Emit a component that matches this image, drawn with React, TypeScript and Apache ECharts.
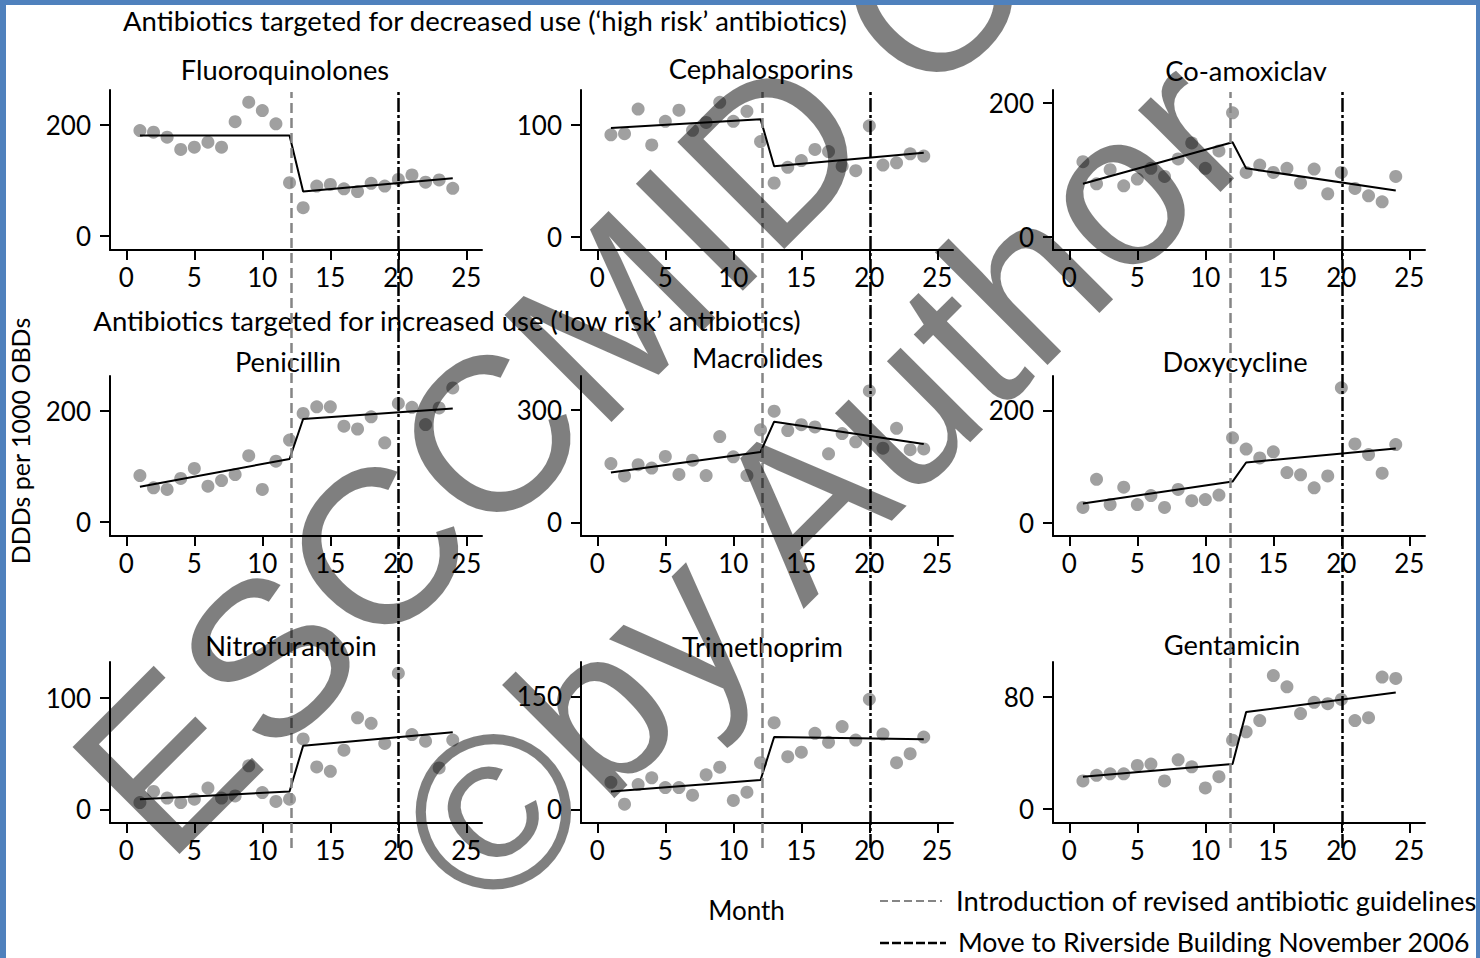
import React, { useEffect, useRef } from 'react';
import * as echarts from 'echarts';

// ---- data ----
const months = [1, 2, 3, 4, 5, 6, 7, 8, 9, 10, 11, 12, 13, 14, 15, 16, 17, 18, 19, 20, 21, 22, 23, 24];

const fluoroquinolones = [190, 187, 178, 156, 160, 169, 160, 206, 241, 226, 202, 96, 51, 90, 93, 85, 80, 95, 90, 102, 110, 97, 101, 86];
const cephalosporins = [91, 92, 114, 82, 103, 113, 95, 102, 120, 103, 112, 85, 48, 62, 68, 78, 76, 63, 59, 99, 64, 66, 74, 72];
const coAmoxiclav = [112, 79, 100, 76, 86, 102, 90, 116, 140, 102, 128, 185, 96, 107, 96, 102, 80, 101, 64, 96, 72, 61, 52, 90];
const penicillin = [83, 61, 58, 78, 96, 64, 74, 85, 119, 58, 109, 147, 195, 207, 207, 172, 167, 189, 142, 213, 206, 175, 205, 241];
const macrolides = [157, 124, 154, 145, 176, 128, 166, 125, 229, 175, 125, 247, 297, 245, 261, 255, 183, 237, 215, 351, 198, 251, 194, 196];
const doxycycline = [27, 77, 32, 63, 32, 48, 27, 59, 39, 41, 49, 151, 131, 115, 126, 89, 85, 62, 83, 240, 140, 121, 88, 139];
const nitrofurantoin = [6, 16, 10, 6, 9, 19, 10, 12, 39, 15, 7, 9, 63, 38, 34, 53, 82, 77, 59, 122, 67, 61, 37, 62];
const trimethoprim = [36, 7, 33, 42, 29, 29, 19, 46, 56, 12, 23, 62, 115, 70, 76, 101, 89, 110, 92, 146, 100, 62, 74, 96];
const gentamicin = [20, 24, 25, 25, 31, 32, 20, 35, 30, 15, 23, 49, 55, 63, 95, 87, 68, 76, 75, 78, 63, 65, 94, 93];

// fitted segmented regression: values at months 1, 12, 13, 24
const fitMonths = [1, 12, 13, 24];
const fitFluoroquinolones = [181, 181, 80, 104];
const fitCephalosporins = [97, 105, 63, 75];
const fitCoAmoxiclav = [79, 141, 102, 69];
const fitPenicillin = [63, 113, 185, 204];
const fitMacrolides = [133, 188, 269, 209];
const fitDoxycycline = [34, 73, 107, 132];
const fitNitrofurantoin = [9, 16, 57, 69];
const fitTrimethoprim = [24, 39, 96, 93];
const fitGentamicin = [23, 32, 69, 83];

const panelNames = ['Fluoroquinolones', 'Cephalosporins', 'Co-amoxiclav', 'Penicillin', 'Macrolides', 'Doxycycline', 'Nitrofurantoin', 'Trimethoprim', 'Gentamicin'];
const panelValues = [fluoroquinolones, cephalosporins, coAmoxiclav, penicillin, macrolides, doxycycline, nitrofurantoin, trimethoprim, gentamicin];
const panelFits = [fitFluoroquinolones, fitCephalosporins, fitCoAmoxiclav, fitPenicillin, fitMacrolides, fitDoxycycline, fitNitrofurantoin, fitTrimethoprim, fitGentamicin];

const xTickLabels = [0, 5, 10, 15, 20, 25];
const yTickLabels = [[0, 200], [0, 100], [0, 200], [0, 200], [0, 300], [0, 200], [0, 100], [0, 150], [0, 80]];
const yMin = [-25.2, -11.8, -19.9, -25.8, -36.7, -23.9, -12.3, -17.9, -10];
const yMax = [263, 131, 219, 262.5, 391, 261, 132, 195.5, 104.7];

// reference events (month)
const guidelineMonth = [12.15, 12.1, 11.8];
const moveMonth = [19.97, 20.1, 20.1];

const sectionTitles = ['Antibiotics targeted for decreased use (‘high risk’ antibiotics)', 'Antibiotics targeted for increased use (‘low risk’ antibiotics)'];
const legendLabels = ['Introduction of revised antibiotic guidelines', 'Move to Riverside Building November 2006'];
const watermarkLines = ['ESCCMID', 'O', '©by Author'];

// ---- layout ----
const FONT = "Lato, 'Noto Sans', sans-serif";
const colLeft = [110, 581, 1053];
const colWidth = 372;
const rowTop = [90, 376, 662];
const rowHeight = [160, 160, 161];
const xMin = -1.2;
const xMax = 26.15;
const titleX = [285, 761, 1246, 288, 757.5, 1235, 291, 762.5, 1232];
const titleY = [69, 68.5, 70.5, 361, 357, 361, 645, 646, 644];

export default function App() {
  const ref = useRef<HTMLDivElement>(null);
  useEffect(() => {
    const chart = echarts.init(ref.current as HTMLDivElement, null, { renderer: 'svg' });
    const grids: any[] = [];
    const xAxes: any[] = [];
    const yAxes: any[] = [];
    const series: any[] = [];
    const graphics: any[] = [];

    for (let i = 0; i < 9; i++) {
      const r = Math.floor(i / 3);
      const c = i % 3;
      grids.push({ left: colLeft[c], top: rowTop[r], width: colWidth, height: rowHeight[r], containLabel: false });
      xAxes.push({
        gridIndex: i, type: 'value', min: xMin, max: xMax,
        axisLine: { show: true, onZero: false, lineStyle: { color: '#000', width: 2 } },
        axisTick: { show: true, customValues: xTickLabels, length: 10, lineStyle: { color: '#000', width: 2 } },
        axisLabel: { customValues: xTickLabels, fontSize: 26, fontFamily: FONT, color: '#000', margin: 14 },
        splitLine: { show: false },
      });
      yAxes.push({
        gridIndex: i, type: 'value', min: yMin[i], max: yMax[i],
        axisLine: { show: true, onZero: false, lineStyle: { color: '#000', width: 2 } },
        axisTick: { show: true, customValues: yTickLabels[i], length: 10, lineStyle: { color: '#000', width: 2 } },
        axisLabel: { customValues: yTickLabels[i], fontSize: 26, fontFamily: FONT, color: '#000', margin: 19 },
        splitLine: { show: false },
      });
      series.push({
        type: 'scatter', xAxisIndex: i, yAxisIndex: i,
        data: months.map((m, k) => [m, panelValues[i][k]]),
        symbolSize: 13, itemStyle: { color: '#888888' }, z: 3,
      });
      series.push({
        type: 'line', xAxisIndex: i, yAxisIndex: i,
        data: fitMonths.map((m, k) => [m, panelFits[i][k]]),
        showSymbol: false, symbol: 'none', lineStyle: { color: '#000', width: 2 }, z: 4,
      });
      graphics.push({
        type: 'text', x: titleX[i], y: titleY[i],
        style: { text: panelNames[i], font: `27.3px ${FONT}`, fill: '#000', align: 'center', verticalAlign: 'middle' },
      });
    }

    // tall grids per column for the reference event lines
    for (let c = 0; c < 3; c++) {
      const gi = 9 + c;
      grids.push({ left: colLeft[c], top: 92, width: colWidth, height: 756 });
      xAxes.push({ gridIndex: gi, type: 'value', min: xMin, max: xMax, show: false });
      yAxes.push({ gridIndex: gi, type: 'value', min: 0, max: 1, show: false });
      series.push({
        type: 'line', xAxisIndex: gi, yAxisIndex: gi, data: [], symbol: 'none', z: 5,
        markLine: {
          silent: true, symbol: ['none', 'none'], label: { show: false },
          data: [
            { xAxis: guidelineMonth[c], lineStyle: { color: '#858585', width: 2.5, type: [10, 5] } },
            { xAxis: moveMonth[c], lineStyle: { color: '#000', width: 2.5, type: [14, 3, 3, 3] } },
          ],
        },
      });
    }

    // section titles, axis titles, legend
    graphics.push({ type: 'text', x: 485, y: 20, style: { text: sectionTitles[0], font: `27.5px ${FONT}`, fill: '#000', align: 'center', verticalAlign: 'middle' } });
    graphics.push({ type: 'text', x: 447, y: 320, style: { text: sectionTitles[1], font: `27.5px ${FONT}`, fill: '#000', align: 'center', verticalAlign: 'middle' } });
    graphics.push({ type: 'text', x: 20, y: 441, rotation: Math.PI / 2, style: { text: 'DDDs per 1000 OBDs', font: `25px ${FONT}`, fill: '#000', align: 'center', verticalAlign: 'middle' } });
    graphics.push({ type: 'text', x: 746.5, y: 910, style: { text: 'Month', font: `26px ${FONT}`, fill: '#000', align: 'center', verticalAlign: 'middle' } });
    graphics.push({ type: 'line', shape: { x1: 880, y1: 901, x2: 942, y2: 901 }, style: { stroke: '#858585', lineWidth: 2, lineDash: [8, 4] } });
    graphics.push({ type: 'line', shape: { x1: 880, y1: 943, x2: 946, y2: 943 }, style: { stroke: '#000', lineWidth: 2.5, lineDash: [9, 3] } });
    graphics.push({ type: 'text', x: 956, y: 900, style: { text: legendLabels[0], font: `27.4px ${FONT}`, fill: '#000', align: 'left', verticalAlign: 'middle' } });
    graphics.push({ type: 'text', x: 958, y: 942, style: { text: legendLabels[1], font: `26.7px ${FONT}`, fill: '#000', align: 'left', verticalAlign: 'middle' } });

    // frame
    graphics.push({ type: 'rect', shape: { x: 0, y: 0, width: 6, height: 958 }, style: { fill: '#4f81bd' }, z: 200 });
    graphics.push({ type: 'rect', shape: { x: 0, y: 0, width: 1480, height: 5 }, style: { fill: '#4f81bd' }, z: 200 });
    graphics.push({ type: 'rect', shape: { x: 1476, y: 0, width: 4, height: 958 }, style: { fill: '#4f81bd' }, z: 200 });

    // watermark (rotated 45°)
    const wmStyle = { font: "220px 'Liberation Sans'", fill: 'rgba(0,0,0,0.5)', align: 'left', verticalAlign: 'middle', lineHeight: 160 };
    graphics.push({ type: 'text', x: 113, y: 813, rotation: Math.PI / 4, z: 100, style: { ...wmStyle, text: watermarkLines[0] } });
    graphics.push({ type: 'text', x: 873, y: 53, rotation: Math.PI / 4, z: 100, style: { ...wmStyle, text: watermarkLines[1] } });
    graphics.push({ type: 'text', x: 436, y: 869, rotation: Math.PI / 4, z: 100, style: { ...wmStyle, text: watermarkLines[2] } });

    chart.setOption({
      animation: false,
      backgroundColor: '#ffffff',
      grid: grids,
      xAxis: xAxes,
      yAxis: yAxes,
      series,
      graphic: { elements: graphics },
    });
    return () => chart.dispose();
  }, []);
  return <div ref={ref} style={{ position: 'absolute', left: 0, top: 0, width: 1480, height: 958, background: '#fff' }} />;
}
